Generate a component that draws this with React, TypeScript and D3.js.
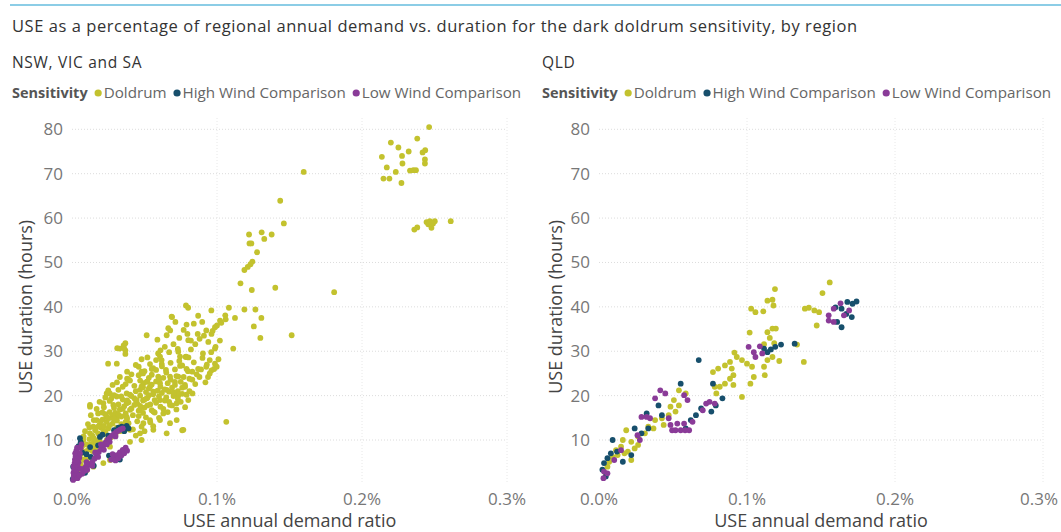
// Two scatter panels: USE annual demand ratio vs USE duration for the dark doldrum sensitivity

import React, { useEffect, useRef } from "react"
import * as d3 from "d3"

const series = ["Doldrum", "High Wind Comparison", "Low Wind Comparison"]
const colors = ["#c3c22e", "#174f6c", "#8a3b98"]
const xTicks = [0, 0.1, 0.2, 0.3]
const yTicks = [10, 20, 30, 40, 50, 60, 70, 80]

// [USE annual demand ratio (%), USE duration (hours)]
const nswDoldrum = [
  [0.2463, 80.5], [0.2199, 77.0], [0.2381, 77.9], [0.2251, 75.9], [0.2322, 75.0], [0.2137, 73.8],
  [0.2276, 74.0], [0.2436, 75.3], [0.2418, 74.8], [0.2434, 73.2], [0.2434, 72.3], [0.2279, 72.3],
  [0.2171, 71.4], [0.2233, 70.4], [0.2331, 70.7], [0.2354, 70.8], [0.2372, 70.8], [0.2148, 68.9],
  [0.2189, 68.9], [0.2272, 67.9],
  [0.2612, 59.3], [0.2361, 57.4], [0.2381, 57.9], [0.2445, 59.1], [0.2468, 59.3], [0.2502, 59.3],
  [0.2479, 57.8], [0.2457, 58.6], [0.249, 58.8],
  [0.1598, 70.4], [0.1436, 63.9], [0.1461, 58.8], [0.1221, 56.3], [0.1308, 56.8], [0.1326, 55.3],
  [0.1377, 56.3], [0.1224, 54.3], [0.1237, 54.3], [0.1276, 52.3], [0.1244, 50.2], [0.1231, 49.6],
  [0.1212, 49.0], [0.1189, 48.3], [0.1162, 45.3], [0.124, 43.8], [0.1402, 44.3], [0.1808, 43.3],
  [0.0801, 39.8], [0.0961, 39.2], [0.1082, 39.8], [0.1189, 39.4], [0.1265, 39.4],
  [0.1124, 37.5], [0.1306, 37.5], [0.1254, 35.6], [0.1299, 33.0], [0.1515, 33.6], [0.1112, 30.6],
  [0.0831, 20.5], [0.1064, 14.1], [0.076, 12.2],
  [0.0677, 34.7], [0.0713, 36.6], [0.069, 37.7], [0.0589, 32.6], [0.0515, 33.6], [0.0653, 33.6],
  [0.0796, 33.9], [0.082, 32.4], [0.0867, 33.9], [0.0898, 36.6], [0.0926, 34.7], [0.0962, 33.9],
  [0.0986, 35.4], [0.1021, 36.9], [0.1057, 38.1],
  [0.0328, 30.6], [0.0356, 31.3], [0.0368, 30.2], [0.0249, 27.2], [0.0309, 27.2], [0.038, 23.8],
  [0.0261, 20.5], [0.0124, 17.9], [0.0594, 29.5], [0.0618, 28.0], [0.0784, 28.7], [0.0803, 28.6],
  [0.0903, 29.5], [0.0926, 26.5], [0.0879, 24.2], [0.0938, 24.2], [0.0962, 25.7], [0.0986, 27.2],
  [0.0998, 26.5], [0.095, 28.0], [0.0986, 30.6],
  [0.0786, 40.3], [0.0687, 37.8], [0.0664, 35.2], [0.0368, 31.8], [0.0359, 30.7], [0.0368, 29.4],
  [0.0312, 30.7], [0.0388, 23.7], [0.048, 28.2], [0.0538, 27.1], [0.0607, 28.8], [0.0619, 27.1],
  [0.0648, 25.8], [0.048, 25.4], [0.0733, 29.9], [0.0745, 28.8], [0.0786, 28.8], [0.0802, 32.5],
  [0.0745, 26.7], [0.0676, 24.3], [0.0595, 24.3], [0.0733, 24.3], [0.0538, 22.0], [0.0492, 22.8],
  [0.0515, 23.1], [0.0607, 22.8], [0.071, 23.1], [0.0779, 22.4], [0.0733, 20.1], [0.0653, 21.3],
  [0.0561, 20.9], [0.0469, 21.3], [0.0377, 20.5], [0.0308, 19.8], [0.0239, 20.5], [0.0216, 18.3],
  [0.0124, 17.5], [0.0285, 17.9], [0.0377, 18.3], [0.0446, 19.0], [0.0515, 19.4], [0.0607, 19.0],
  [0.0676, 17.9], [0.0722, 18.3], [0.0802, 19.0], [0.0469, 16.8], [0.0561, 16.4], [0.063, 16.0],
  [0.0722, 14.5], [0.0676, 13.8], [0.0768, 12.3], [0.0607, 14.5], [0.0538, 14.5], [0.0492, 13.8],
  [0.0377, 15.2], [0.0308, 15.2], [0.0239, 15.2], [0.017, 14.5], [0.0147, 13.0], [0.0216, 12.3],
  [0.0124, 11.5], [0.04, 12.3], [0.0469, 11.5], [0.04, 9.6], [0.048, 10.0], [0.0561, 12.3],
  [0.0653, 11.5], [0.0262, 5.5], [0.0216, 4.8], [0.017, 7.0], [0.0147, 4.0], [0.0101, 6.2],
  [0.0101, 3.2], [0.0055, 8.5], [0.0078, 10.0], [0.0193, 9.6], [0.0262, 8.5],
  [0.010, 9.0], [0.012, 10.2], [0.014, 11.0], [0.015, 9.4], [0.016, 12.2], [0.018, 11.5],
  [0.019, 13.4], [0.020, 12.8], [0.021, 14.6], [0.022, 13.2], [0.023, 15.8], [0.024, 14.1],
  [0.025, 12.6], [0.026, 16.3], [0.027, 15.0], [0.028, 13.7], [0.029, 17.2], [0.030, 16.1],
  [0.031, 14.4], [0.032, 18.0], [0.033, 16.9], [0.034, 15.3], [0.035, 19.1], [0.036, 17.6],
  [0.037, 16.0], [0.038, 14.8], [0.039, 18.5], [0.040, 20.2], [0.041, 17.1], [0.042, 15.6],
  [0.043, 19.4], [0.044, 21.0], [0.045, 18.2], [0.046, 16.6], [0.047, 20.0], [0.048, 22.1],
  [0.049, 18.9], [0.050, 17.3], [0.051, 20.8], [0.052, 19.5], [0.053, 21.6], [0.054, 18.0],
  [0.055, 22.5], [0.056, 20.3], [0.057, 19.0], [0.058, 23.2], [0.059, 21.1], [0.060, 19.8],
  [0.061, 22.0], [0.062, 20.6], [0.063, 24.0], [0.064, 21.4], [0.065, 19.6], [0.066, 22.8],
  [0.067, 20.9], [0.068, 23.6], [0.069, 21.8], [0.070, 19.9], [0.071, 22.4], [0.072, 24.4],
  [0.073, 21.0], [0.075, 23.1], [0.076, 20.4],
  [0.030, 11.2], [0.033, 12.0], [0.036, 12.9], [0.039, 13.8], [0.042, 12.4], [0.045, 14.2],
  [0.048, 13.0], [0.051, 15.1], [0.054, 14.0], [0.057, 16.2], [0.060, 15.0], [0.063, 17.0],
  [0.066, 16.3], [0.069, 17.8], [0.072, 16.9], [0.075, 18.6], [0.078, 17.4], [0.044, 11.0],
  [0.050, 12.0], [0.056, 13.1],
  [0.015, 14.5], [0.018, 16.0], [0.022, 17.4], [0.026, 18.8], [0.029, 20.1], [0.032, 21.3],
  [0.034, 19.8], [0.037, 22.6], [0.040, 23.4], [0.043, 22.2], [0.046, 24.6], [0.050, 25.5],
  [0.053, 24.0], [0.056, 26.2], [0.012, 12.8], [0.008, 10.8], [0.009, 12.0], [0.011, 13.6],
  [0.007, 8.6], [0.006, 6.8], [0.016, 8.2], [0.020, 9.2], [0.024, 10.0], [0.027, 10.6],
  [0.004, 3.0], [0.006, 4.5], [0.008, 5.6], [0.009, 7.4], [0.012, 6.0], [0.014, 7.5], [0.017, 9.8],
  [0.082, 30.4], [0.085, 31.6], [0.088, 32.8], [0.091, 33.5], [0.094, 32.1], [0.097, 34.6],
  [0.100, 35.8], [0.103, 36.4], [0.106, 37.2], [0.084, 27.5], [0.087, 26.0], [0.090, 28.5],
  [0.093, 27.0], [0.096, 29.8], [0.099, 31.0], [0.102, 32.4], [0.080, 25.5], [0.083, 23.6],
  [0.086, 24.8], [0.089, 25.9], [0.092, 23.0], [0.095, 25.0], [0.098, 26.0], [0.101, 28.2],
  [0.078, 22.0], [0.081, 21.0], [0.076, 26.8], [0.073, 30.5], [0.070, 31.6], [0.067, 29.8],
  [0.064, 31.0], [0.061, 30.2], [0.058, 28.0], [0.055, 26.0], [0.052, 28.6], [0.049, 25.0],
  [0.046, 26.5], [0.074, 33.0], [0.077, 34.8], [0.079, 36.0], [0.084, 36.2], [0.087, 38.0],
  [0.013, 15.6], [0.017, 17.0], [0.019, 18.6], [0.021, 16.2], [0.023, 19.6], [0.025, 21.2],
  [0.027, 19.3], [0.028, 22.4], [0.031, 23.0], [0.033, 24.2], [0.035, 22.0], [0.038, 25.4],
  [0.041, 24.8], [0.044, 26.9], [0.047, 23.4], [0.049, 21.9], [0.052, 23.2], [0.055, 24.7],
  [0.058, 25.8], [0.060, 23.6], [0.062, 26.6], [0.065, 25.2], [0.068, 27.4], [0.071, 25.9],
  [0.074, 27.8], [0.077, 24.2], [0.079, 26.0], [0.081, 23.8], [0.083, 25.4], [0.085, 22.6],
  [0.019, 10.6], [0.022, 11.4], [0.025, 14.9], [0.028, 15.6], [0.031, 12.8], [0.034, 13.6],
  [0.037, 14.1], [0.040, 16.8], [0.043, 17.9], [0.046, 15.4], [0.049, 16.1], [0.052, 17.8],
  [0.055, 16.7], [0.058, 18.4], [0.061, 17.5], [0.064, 18.9], [0.067, 18.6], [0.070, 20.7],
  [0.073, 19.3], [0.076, 21.8], [0.079, 20.2],
  [0.011, 7.8], [0.013, 9.0], [0.015, 10.4], [0.018, 13.0], [0.020, 14.2], [0.023, 11.8],
  [0.026, 13.3], [0.029, 14.8], [0.032, 15.7], [0.035, 17.0], [0.038, 18.9], [0.041, 19.9],
  [0.044, 19.0], [0.047, 17.7], [0.050, 19.1], [0.053, 20.1],
]

const nswHighWind = [
  [0.0005, 1.2], [0.0022, 1.6], [0.0008, 4.0], [0.0035, 6.8], [0.0045, 8.6], [0.0055, 10.4],
  [0.006, 9.5], [0.007, 7.2], [0.010, 6.8], [0.0125, 8.4], [0.0193, 10.7], [0.021, 11.2],
  [0.025, 11.0], [0.029, 12.2], [0.032, 12.8], [0.0343, 13.0], [0.0377, 13.2], [0.036, 12.0],
  [0.039, 12.6], [0.033, 5.6], [0.015, 4.2], [0.009, 2.6], [0.004, 2.2], [0.013, 6.2],
  [0.018, 8.8], [0.0255, 6.5],
]

const nswLowWind = [
  [0.0008, 1.0], [0.0012, 1.8], [0.001, 2.6], [0.0015, 3.3], [0.0012, 4.1], [0.0018, 4.8],
  [0.002, 5.6], [0.0025, 6.3], [0.0022, 7.0], [0.003, 7.6], [0.0035, 8.3], [0.0028, 2.0],
  [0.0032, 3.0], [0.004, 4.0], [0.0045, 5.0], [0.005, 6.0], [0.0038, 1.4], [0.0055, 7.0],
  [0.006, 8.2], [0.0065, 9.0],
  [0.008, 3.5], [0.0095, 4.0], [0.011, 4.3], [0.0125, 4.6], [0.014, 5.0], [0.0155, 5.8],
  [0.017, 6.5], [0.0185, 7.3], [0.020, 8.0], [0.0215, 8.7], [0.023, 9.4], [0.0245, 10.0],
  [0.026, 10.5], [0.0275, 11.0], [0.029, 11.4], [0.0305, 11.8], [0.032, 12.1], [0.0335, 12.4],
  [0.035, 12.6], [0.010, 5.0], [0.014, 4.2], [0.018, 6.2], [0.022, 7.8], [0.026, 9.6],
  [0.030, 10.8], [0.016, 7.2], [0.020, 9.0], [0.024, 9.0],
  [0.027, 5.6], [0.029, 6.0], [0.031, 6.6], [0.033, 7.2], [0.035, 7.8], [0.037, 8.3],
  [0.030, 5.4], [0.032, 5.9], [0.034, 6.5], [0.036, 7.0], [0.028, 6.8], [0.038, 7.6],
  [0.007, 2.4], [0.0085, 3.0], [0.0105, 3.3], [0.005, 2.0], [0.006, 3.5], [0.003, 5.2],
]

const qldDoldrum = [
  [0.1559, 45.5], [0.151, 43.1], [0.1189, 44.0], [0.1138, 41.4], [0.1172, 41.6], [0.1179, 40.3],
  [0.1028, 39.6], [0.1057, 38.8], [0.111, 39.0], [0.1391, 39.6], [0.1418, 39.8], [0.1455, 39.2],
  [0.1487, 38.8], [0.1471, 35.8], [0.1384, 27.6], [0.1338, 31.5], [0.1138, 34.3], [0.1172, 35.1],
  [0.1195, 35.1], [0.1154, 33.0], [0.1184, 31.8], [0.1115, 31.6], [0.1018, 34.2], [0.0915, 29.7],
  [0.0931, 28.7], [0.0966, 28.0], [0.1, 27.2], [0.1034, 26.5], [0.1046, 24.2], [0.1023, 22.7],
  [0.0885, 27.6], [0.0851, 26.8], [0.0805, 26.1], [0.077, 25.3], [0.0897, 26.1], [0.0908, 24.6],
  [0.0885, 23.8], [0.0851, 22.7], [0.0816, 22.0], [0.0793, 20.5], [0.0782, 22.0], [0.0966, 19.7],
  [0.0908, 22.4], [0.1115, 26.5], [0.1138, 28.0], [0.1218, 27.8], [0.112, 24.6], [0.1172, 28.7],
  [0.0586, 20.5], [0.054, 21.2], [0.0506, 19.0], [0.0483, 17.5], [0.0517, 16.4], [0.054, 17.8],
  [0.0471, 15.6], [0.0425, 14.9], [0.0437, 13.4], [0.0368, 12.6], [0.031, 11.5], [0.0264, 10.8],
  [0.0218, 9.6], [0.0184, 12.2], [0.0161, 10.0], [0.0149, 8.5], [0.0115, 7.7], [0.0092, 6.2],
  [0.0069, 5.1], [0.0057, 4.0], [0.0046, 2.5], [0.0126, 6.6], [0.0195, 7.4], [0.0218, 5.5],
  [0.0172, 7.0], [0.0241, 8.1], [0.0264, 8.9], [0.0333, 13.0], [0.0379, 14.5],
]

const qldHighWind = [
  [0.174, 41.2], [0.1713, 40.7], [0.1678, 41.1], [0.1598, 39.9], [0.1639, 39.6], [0.1671, 38.4],
  [0.1708, 37.7], [0.1609, 36.6], [0.1639, 35.4], [0.1322, 31.7], [0.123, 31.5], [0.1191, 31.0],
  [0.1161, 30.4], [0.1138, 29.8], [0.1115, 30.6], [0.0674, 28.0], [0.077, 22.7], [0.0834, 19.4],
  [0.0789, 17.8], [0.0759, 16.4], [0.0552, 22.7], [0.069, 17.1], [0.0655, 15.6], [0.062, 14.5],
  [0.0586, 12.6], [0.0402, 17.8], [0.0425, 15.6], [0.0322, 16.0], [0.0333, 12.6], [0.0287, 11.5],
  [0.0241, 12.6], [0.0092, 10.0], [0.0122, 7.4], [0.008, 7.0], [0.0161, 5.1], [0.0218, 6.6],
  [0.0034, 4.8], [0.0023, 3.3], [0.0046, 1.8], [0.0057, 5.9],
]

const qldLowWind = [
  [0.1632, 40.8], [0.1586, 39.6], [0.1552, 38.1], [0.1552, 36.9], [0.1586, 36.6], [0.169, 39.2],
  [0.1655, 38.1], [0.1011, 31.0], [0.1046, 29.8], [0.1087, 31.1], [0.1103, 29.5], [0.1057, 28.7],
  [0.0414, 21.2], [0.0448, 20.5], [0.0379, 19.4], [0.0575, 20.1], [0.0598, 19.0], [0.0471, 14.9],
  [0.0483, 13.4], [0.0494, 12.2], [0.0517, 12.2], [0.0552, 12.2], [0.0582, 12.2], [0.0609, 12.2],
  [0.0529, 13.7], [0.0575, 13.7], [0.0632, 14.1], [0.0724, 18.2], [0.0747, 18.6], [0.0782, 18.2],
  [0.0701, 16.7], [0.0322, 15.2], [0.0345, 14.9], [0.0287, 15.2], [0.026, 11.1], [0.0276, 10.0],
  [0.0149, 7.7], [0.0103, 5.5], [0.0034, 2.9], [0.003, 1.4], [0.0057, 2.5],
]

const panels = [
  { name: "NSW, VIC and SA", offset: 0, plotLeft: 72, plotRight: 507, data: [nswDoldrum, nswHighWind, nswLowWind] },
  { name: "QLD", offset: 530, plotLeft: 599, plotRight: 1043, data: [qldDoldrum, qldHighWind, qldLowWind] },
]

const FONT = "'Open Sans', sans-serif"

export default function App() {
  const ref = useRef(null)

  useEffect(() => {
    const svg = d3.select(ref.current)
    svg.selectAll("*").remove()

    svg.append("rect").attr("width", 1061).attr("height", 532).attr("fill", "#ffffff")

    // top accent line
    svg.append("line")
      .attr("x1", 10).attr("x2", 1061).attr("y1", 5).attr("y2", 5)
      .attr("stroke", "#8ccde6").attr("stroke-width", 2)

    svg.append("text")
      .attr("x", 12).attr("y", 32)
      .style("font-family", FONT).style("font-size", "16.5px").style("letter-spacing", "0.55px")
      .attr("fill", "#333")
      .text("USE as a percentage of regional annual demand vs. duration for the dark doldrum sensitivity, by region")

    const y = d3.scaleLinear().domain([0, 80]).range([484.4, 129.3])

    panels.forEach(p => {
      const g = svg.append("g")
      const x = d3.scaleLinear().domain([0, 0.3]).range([p.plotLeft, p.plotRight])
      const panelEnd = p.offset + 528

      g.append("text")
        .attr("x", p.offset + 12).attr("y", 68)
        .style("font-family", FONT).style("font-size", "15.5px").style("letter-spacing", "0.7px")
        .attr("fill", "#333")
        .text(p.name)

      // legend
      let lx = p.offset + 12
      const ly = 98
      const lab = g.append("text")
        .attr("x", lx).attr("y", ly)
        .style("font-family", FONT).style("font-size", "14.5px").style("font-weight", "bold")
        .attr("fill", "#555").text("Sensitivity")
      lx += lab.node().getComputedTextLength() + 7
      series.forEach((s, i) => {
        g.append("circle").attr("cx", lx + 3.5).attr("cy", ly - 5).attr("r", 3.6).attr("fill", colors[i])
        const t = g.append("text")
          .attr("x", lx + 9).attr("y", ly)
          .style("font-family", FONT).style("font-size", "15.2px").attr("fill", "#666")
          .text(s)
        lx += 9 + t.node().getComputedTextLength() + 7
      })

      // gridlines
      g.selectAll(".hgrid").data(yTicks).enter().append("line")
        .attr("x1", p.plotLeft).attr("x2", p.plotRight)
        .attr("y1", d => y(d)).attr("y2", d => y(d))
        .attr("stroke", "#dcdcdc").attr("stroke-dasharray", "1,2")
      g.selectAll(".vgrid").data(xTicks.slice(1)).enter().append("line")
        .attr("x1", d => x(d)).attr("x2", d => x(d))
        .attr("y1", 118).attr("y2", 484)
        .attr("stroke", "#e8e8e8").attr("stroke-dasharray", "1,2")

      // tick labels
      g.selectAll(".ylab").data(yTicks).enter().append("text")
        .attr("x", p.plotLeft - 9).attr("y", d => y(d)).attr("dy", "0.35em")
        .attr("text-anchor", "end")
        .style("font-family", FONT).style("font-size", "17px").attr("fill", "#777")
        .text(d => d)
      g.selectAll(".xlab").data(xTicks).enter().append("text")
        .attr("x", d => x(d)).attr("y", 505)
        .attr("text-anchor", "middle")
        .style("font-family", FONT).style("font-size", "17px").attr("fill", "#777")
        .text(d => d.toFixed(1) + "%")
        .each(function () {
          // keep the last label inside its panel, as the original does
          const node = this as SVGTextElement
          const w = node.getComputedTextLength()
          const cx = +node.getAttribute("x")
          if (cx + w / 2 > panelEnd) node.setAttribute("x", String(panelEnd - w / 2))
        })

      // axis titles
      g.append("text")
        .attr("x", (p.plotLeft + p.plotRight) / 2).attr("y", 527)
        .attr("text-anchor", "middle")
        .style("font-family", FONT).style("font-size", "18px").attr("fill", "#444")
        .text("USE annual demand ratio")
      g.append("text")
        .attr("transform", `translate(${p.offset + 32},${(y(0) + y(80)) / 2}) rotate(-90)`)
        .attr("text-anchor", "middle")
        .style("font-family", FONT).style("font-size", "18px").attr("fill", "#444")
        .text("USE duration (hours)")

      // points
      p.data.forEach((pts, i) => {
        g.append("g").selectAll("circle").data(pts).enter().append("circle")
          .attr("cx", d => x(d[0])).attr("cy", d => y(d[1]))
          .attr("r", 2.9).attr("fill", colors[i])
      })
    })
  }, [])

  return <svg ref={ref} width={1061} height={532} style={{ display: "block", position: "absolute", left: 0, top: 0 }}></svg>
}
